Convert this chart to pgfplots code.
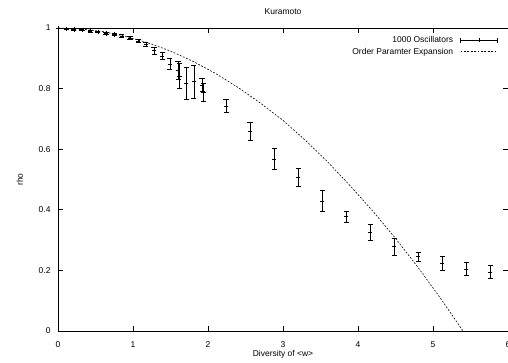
\documentclass[border=0pt]{standalone}
\usepackage{pgfplots}
\pgfplotsset{compat=1.18}
\usepackage{pgfplotstable}
\usepackage{fontspec}
\setmainfont{Liberation Sans}
\pgfplotstableread{
x y e
0.000 1.000 0.000
0.107 0.997 0.001
0.213 0.995 0.002
0.320 0.993 0.002
0.427 0.990 0.003
0.533 0.987 0.003
0.640 0.982 0.003
0.747 0.978 0.004
0.853 0.974 0.004
0.960 0.966 0.005
1.067 0.957 0.006
1.173 0.946 0.008
1.280 0.925 0.011
1.387 0.908 0.013
1.493 0.881 0.018
1.600 0.861 0.030
1.620 0.842 0.040
1.707 0.817 0.052
1.813 0.823 0.055
1.920 0.812 0.022
1.940 0.787 0.030
2.240 0.743 0.022
2.560 0.658 0.029
2.880 0.567 0.034
3.200 0.507 0.030
3.520 0.429 0.034
3.840 0.377 0.018
4.160 0.326 0.026
4.480 0.278 0.029
4.800 0.245 0.014
5.120 0.223 0.022
5.440 0.205 0.022
5.760 0.194 0.021
}\osc
\pgfplotstableread{
x y
0.0 1.000
0.3 0.997
0.6 0.988
0.9 0.972
1.2 0.951
1.5 0.924
1.8 0.890
2.1 0.850
2.4 0.804
2.7 0.752
3.0 0.695
3.3 0.629
3.6 0.557
3.9 0.478
4.2 0.395
4.5 0.306
4.8 0.210
5.1 0.108
5.4 0.000
}\expan
\begin{document}
\begin{tikzpicture}
\useasboundingbox (-58bp,-32bp) rectangle (450bp,331bp);
\begin{axis}[
  at={(0bp,0bp)}, anchor=south west,
  scale only axis, width=450bp, height=303bp,
  xmin=0, xmax=6, ymin=0, ymax=1,
  xtick={0,1,2,3,4,5,6},
  ytick={0,0.2,0.4,0.6,0.8,1},
  tick align=inside, major tick length=5bp,
  tick style={black, line width=0.6bp},
  axis line style={black, line width=0.8bp},
  font=\fontsize{8.5}{10}\selectfont,
  /pgf/number format/assume math mode=true,
  xticklabel style={anchor=base, yshift=-16bp, inner sep=0pt},
  yticklabel style={anchor=east, xshift=-4bp},
  title=Kuramoto,
  title style={at={(axis description cs:0.5,1.025)}, anchor=base, inner sep=0pt},
  xlabel={Diversity of <w>},
  xlabel style={at={(axis description cs:0.5,-0.0858)}, anchor=base, inner sep=0pt},
  ylabel={rho},
  ylabel style={at={(axis description cs:-0.0845,0.5)}, anchor=center, inner sep=0pt},
  legend plot pos=right,
  legend cell align=right,
  legend style={draw=none, fill=none, anchor=north east, at={(axis description cs:0.978,0.98)},
    inner sep=0pt, row sep=0bp, column sep=5bp, font=\fontsize{8.5}{10}\selectfont},
]
\addplot[black, line width=0.7bp, mark=+, mark size=2.2bp, only marks,
  error bars/.cd, y dir=both, y explicit,
  error bar style={black, line width=0.8bp},
  error mark options={black, rotate=90, mark size=2.5bp, line width=0.8bp},
  /pgfplots/legend image code/.code={
    \draw[black, line width=0.8bp] (0bp,0bp) -- (37bp,0bp);
    \draw[black, line width=0.8bp] (0bp,-2.5bp) -- (0bp,2.5bp);
    \draw[black, line width=0.8bp] (37bp,-2.5bp) -- (37bp,2.5bp);
    \draw[black, line width=0.7bp] (18.5bp,-2.2bp) -- (18.5bp,2.2bp);}]
  table[x=x, y=y, y error=e] {\osc};
\addlegendentry{1000 Oscillators}
\addplot[black, line width=0.6bp, dash pattern=on 1.8bp off 1.6bp, mark=none,
  legend image code/.code={\draw[black, line width=0.6bp, dash pattern=on 1.8bp off 1.6bp] (0bp,0bp) -- (37bp,0bp);}]
  table[x=x, y=y] {\expan};
\addlegendentry{Order Paramter Expansion}
\end{axis}
\end{tikzpicture}
\end{document}
